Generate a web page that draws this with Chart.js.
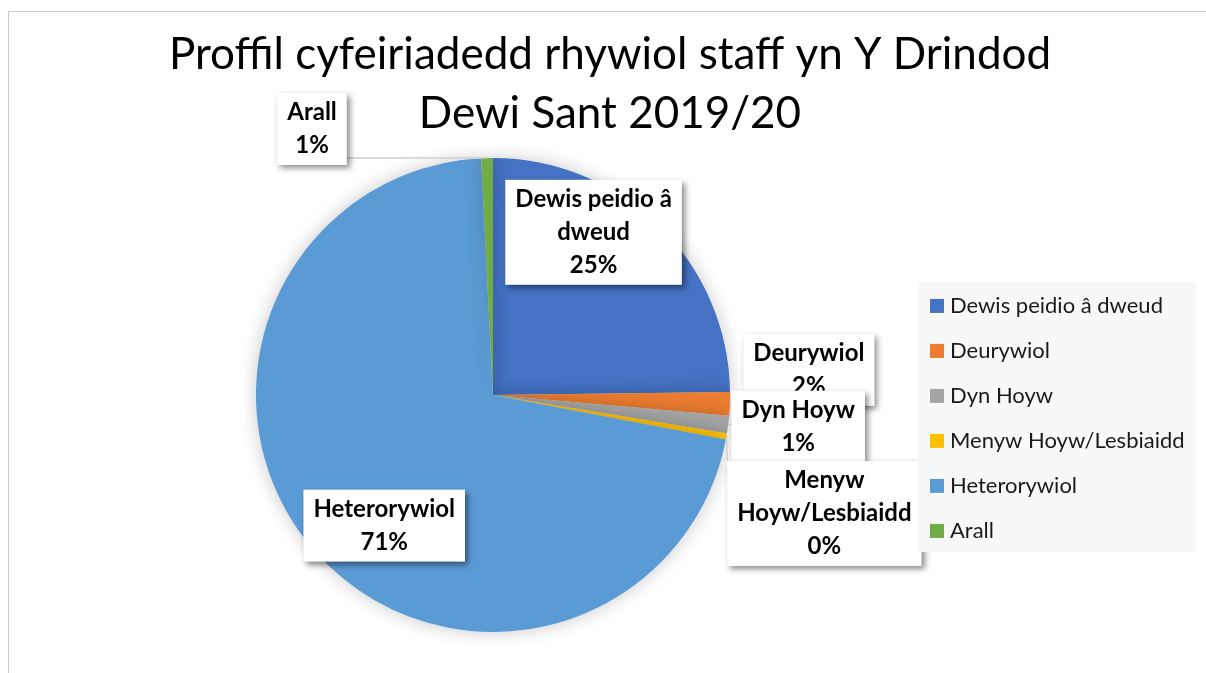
<!DOCTYPE html>
<html>
<head>
<meta charset="utf-8">
<script src="https://cdn.jsdelivr.net/npm/chart.js@4.4.0/dist/chart.umd.min.js"></script>
<style>
  body { margin: 0; background: #ffffff; }
  #frame { position: absolute; left: 8px; top: 11px; width: 1220px; height: 690px; border: 1px solid #c9c9c9; }
  #pieChart { position: absolute; left: 0; top: 0; }
</style>
</head>
<body>
<div id="frame"></div>
<canvas id="pieChart" width="1206" height="673"></canvas>
<script>
  // values (staff counts, labels show rounded %)
  const categories = ['Dewis peidio â dweud', 'Deurywiol', 'Dyn Hoyw', 'Menyw Hoyw/Lesbiaidd', 'Heterorywiol', 'Arall'];
  const staffCounts = [62, 4, 3, 1, 178, 2];
  const sliceColours = ['#4472C4', '#ED7D31', '#A5A5A5', '#FFC000', '#5B9BD5', '#70AD47'];
  const titleLines = ['Proffil cyfeiriadedd rhywiol staff yn Y Drindod', 'Dewi Sant 2019/20'];

  // where each data label box sits, relative to the outer middle of its slice
  const labelOffsets = [[-66, 6], [79, -34], [70, 2], [98, 77], [70, -25], [-175, -29]];

  Chart.defaults.font.family = 'Lato';

  // title is centred across the whole frame, not just over the pie
  const wideTitle = {
    id: 'wideTitle',
    afterLayout(chart) {
      chart.titleBlock.left = 14;
      chart.titleBlock.right = chart.width;
    }
  };

  const pieShadow = {
    id: 'pieShadow',
    beforeDatasetsDraw(chart) {
      const ctx = chart.ctx;
      ctx.save();
      ctx.shadowColor = 'rgba(0,0,0,0.22)';
      ctx.shadowBlur = 18;
    },
    afterDatasetsDraw(chart) {
      chart.ctx.restore();
    }
  };

  function wrapText(ctx, text, maxW) {
    const words = text.split(' ');
    const lines = [];
    let cur = '';
    words.forEach(w => {
      const test = cur ? cur + ' ' + w : w;
      if (cur && ctx.measureText(test).width > maxW) { lines.push(cur); cur = w; }
      else cur = test;
    });
    if (cur) lines.push(cur);
    return lines;
  }

  const boxLabels = {
    id: 'boxLabels',
    afterDatasetsDraw(chart) {
      const ctx = chart.ctx;
      const meta = chart.getDatasetMeta(0);
      const vals = chart.data.datasets[0].data;
      const total = vals.reduce((a, b) => a + b, 0);
      ctx.save();
      ctx.font = 'bold 24px Lato';
      meta.data.forEach((arc, i) => {
        const p = arc.getProps(['x', 'y', 'startAngle', 'endAngle', 'outerRadius'], true);
        const mid = (p.startAngle + p.endAngle) / 2;
        const ax = p.x + Math.cos(mid) * p.outerRadius;
        const ay = p.y + Math.sin(mid) * p.outerRadius;
        const lines = wrapText(ctx, chart.data.labels[i], 180);
        lines.push(Math.round(vals[i] / total * 100) + '%');
        const lh = 33;
        const w = Math.max(...lines.map(l => ctx.measureText(l).width)) + 20;
        const h = lines.length * lh + 6;
        const cx = ax + labelOffsets[i][0], cy = ay + labelOffsets[i][1];
        const bx = cx - w / 2, by = cy - h / 2;
        // leader line
        const nx = Math.min(Math.max(ax, bx), bx + w);
        const ny = Math.min(Math.max(ay, by), by + h);
        if (nx !== ax || ny !== ay) {
          ctx.strokeStyle = '#cfcfcf';
          ctx.lineWidth = 1.5;
          ctx.beginPath();
          ctx.moveTo(nx, ny);
          ctx.lineTo(ax, ay);
          ctx.stroke();
        }
        ctx.save();
        ctx.shadowColor = 'rgba(0,0,0,0.45)';
        ctx.shadowBlur = 6;
        ctx.shadowOffsetX = 3;
        ctx.shadowOffsetY = 3;
        ctx.fillStyle = '#ffffff';
        ctx.fillRect(bx, by, w, h);
        ctx.restore();
        ctx.fillStyle = '#000000';
        ctx.textAlign = 'center';
        ctx.textBaseline = 'middle';
        lines.forEach((l, j) => {
          ctx.fillText(l, cx, by + 3 + lh * j + lh / 2);
        });
      });
      ctx.restore();
    }
  };

  const sideLegend = {
    id: 'sideLegend',
    afterDraw(chart) {
      const ctx = chart.ctx;
      const area = chart.chartArea;
      const left = area.right, top = area.top + 124;
      ctx.save();
      ctx.fillStyle = '#f8f8f8';
      ctx.fillRect(left, top, 278, 270);
      ctx.font = '22px Lato';
      ctx.textBaseline = 'middle';
      ctx.textAlign = 'left';
      chart.data.labels.forEach((lab, i) => {
        const y = top + 24 + i * 45;
        ctx.fillStyle = chart.data.datasets[0].backgroundColor[i];
        ctx.fillRect(left + 12, y - 7, 14, 14);
        ctx.fillStyle = '#1a1a1a';
        ctx.fillText(lab, left + 32, y);
      });
      ctx.restore();
    }
  };

  const ctx = document.getElementById('pieChart');
  const pieChart = new Chart(ctx, {
    type: 'pie',
    data: {
      labels: categories,
      datasets: [{
        data: staffCounts,
        backgroundColor: sliceColours,
        borderWidth: 0
      }]
    },
    options: {
      responsive: false,
      animation: false,
      layout: { padding: { left: 68, right: 288, top: 0, bottom: 41 } },
      plugins: {
        legend: { display: false },
        tooltip: { enabled: false },
        title: {
          display: true,
          text: titleLines,
          color: '#000000',
          font: { size: 44, weight: 'normal', lineHeight: 1.34 },
          padding: { top: 25, bottom: 15 }
        }
      }
    },
    plugins: [wideTitle, pieShadow, boxLabels, sideLegend]
  });
</script>
</body>
</html>
